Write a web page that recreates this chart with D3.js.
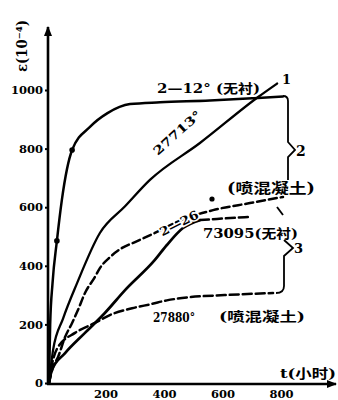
<!DOCTYPE html>
<html><head><meta charset="utf-8">
<script src="https://cdn.jsdelivr.net/npm/d3@7"></script>
<style>body{margin:0;background:#fff}svg{display:block}</style>
</head><body>
<svg id="c" width="338" height="400"></svg>
<script>
// ---- data (t in hours, strain in 1e-4) ----
const xTicks = [200, 400, 600, 800];
const yTicks = [0, 200, 400, 600, 800, 1000];

const tA = [0, 4, 12, 27, 44, 79, 140, 200, 277, 380, 550, 700, 800];          // 2—12° (无衬)
const vA = [0, 200, 340, 485, 625, 795, 874, 921, 952, 958, 964, 972, 978];

const t1 = [0, 14, 48, 96, 174, 260, 345, 516, 715, 780];                      // 27713°
const v1 = [0, 113, 220, 341, 512, 603, 693, 819, 976, 1022];

const t226 = [0, 14, 31, 55, 79, 99, 123, 157, 174, 209, 250, 294, 362, 450, 561, 687, 800]; // 2—26 (喷混凝土)
const v226 = [0, 55, 89, 157, 205, 249, 307, 362, 392, 430, 461, 481, 512, 555, 590, 614, 635];

const t73 = [0, 10, 55, 123, 191, 260, 362, 403, 458, 516, 574, 687];          // 73095 (无衬)
const v73 = [0, 44, 102, 171, 239, 317, 420, 471, 529, 556, 560, 567];

const t278 = [0, 10, 31, 89, 157, 215, 284, 352, 403, 482, 600, 766];          // 27880° (喷混凝土)
const v278 = [0, 62, 123, 171, 205, 235, 255, 270, 282, 293, 300, 307];

const markA = [27, 79];   // point markers on curve 2—12

const svg = d3.select("#c");
svg.append("rect").attr("width", 338).attr("height", 400).attr("fill", "#fff");

const x = d3.scaleLinear().domain([0, 800]).range([49, 283]);
const y = d3.scaleLinear().domain([0, 1000]).range([383, 90]);

const defs = svg.append("defs");
defs.append("marker").attr("id", "arr").attr("viewBox", "0 0 10 10").attr("refX", 9).attr("refY", 5)
  .attr("markerWidth", 4).attr("markerHeight", 4).attr("orient", "auto")
  .append("path").attr("d", "M0,1 L10,5 L0,9 Z").attr("fill", "#000");

// axes
svg.append("line").attr("x1", 47).attr("y1", 384).attr("x2", 336).attr("y2", 384)
  .attr("stroke", "#000").attr("stroke-width", 2.6).attr("marker-end", "url(#arr)");
svg.append("line").attr("x1", 48).attr("y1", 385).attr("x2", 48).attr("y2", 27)
  .attr("stroke", "#000").attr("stroke-width", 2.6).attr("marker-end", "url(#arr)");

const yAx = svg.append("g").attr("transform", "translate(48,0)")
  .call(d3.axisLeft(y).tickValues(yTicks).tickSize(3).tickFormat(d3.format("d")));
yAx.select(".domain").remove();
yAx.selectAll("line").attr("stroke", "#000").attr("stroke-width", 2);
yAx.selectAll("text").attr("font-family", "DejaVu Serif").attr("font-weight", "bold")
  .attr("font-size", 11.5).attr("fill", "#000").attr("x", -5);

const xAx = svg.append("g").attr("transform", "translate(0,384)")
  .call(d3.axisBottom(x).tickValues(xTicks).tickSize(0).tickFormat(d3.format("d")));
xAx.select(".domain").remove();
xAx.selectAll("text").attr("font-family", "DejaVu Serif").attr("font-weight", "bold")
  .attr("font-size", 11.5).attr("fill", "#000").attr("dy", "0.95em").attr("dx", "-2");

// curves
const line = d3.line().x(d => x(d[0])).y(d => y(d[1])).curve(d3.curveMonotoneX);
function draw(ts, vs, dash, w) {
  svg.append("path").datum(ts.map((t, i) => [t, vs[i]])).attr("d", line)
    .attr("fill", "none").attr("stroke", "#000").attr("stroke-width", w || 2.5)
    .attr("stroke-linecap", "round").attr("stroke-dasharray", dash || null);
}
draw(tA, vA);
draw(t1, v1, null, 2.3);
draw(t226, v226, "8,4");
const split = t73.indexOf(516);
draw(t73.slice(0, split + 1), v73.slice(0, split + 1), null, 2.7);
draw(t73.slice(split), v73.slice(split), "9,4");
draw(t278, v278, "9,4");
markA.forEach(t => {
  const i = tA.indexOf(t);
  svg.append("circle").attr("cx", x(t)).attr("cy", y(vA[i])).attr("r", 2.8).attr("fill", "#000");
});

// braces
const br = svg.append("g").attr("fill", "none").attr("stroke", "#000").attr("stroke-width", 1.8);
br.append("path").attr("d", "M283,96 Q288,96 288,101 L288,142 L295,150 L288,157 L288,180");
br.append("path").attr("d", "M277,207 L283,215");
br.append("path").attr("d", "M284,240 L293,248 L284,256 L284,286 Q284,293 276,293");

// labels
const F = "DejaVu Serif, Noto Sans CJK SC";
function lab(txt, x0, y0, size, len, rot, anchor) {
  const t = svg.append("text").attr("x", x0).attr("y", y0).attr("font-family", F)
    .attr("font-weight", "bold").attr("font-size", size).attr("fill", "#000")
    .attr("text-anchor", anchor || "start").text(txt);
  if (len) t.attr("textLength", len).attr("lengthAdjust", "spacingAndGlyphs");
  if (rot) t.attr("transform", `rotate(${rot},${x0},${y0})`);
  return t;
}
lab("2—12° (无衬)", 157, 93, 13, 103);
lab("1", 282, 84, 13);
lab("2", 296, 156, 14);
lab("27713°", 180, 136, 12, 60, -42, "middle");
lab("2—26", 181, 227, 12, 42, -27, "middle").attr("paint-order", "stroke").attr("stroke", "#fff").attr("stroke-width", 3);
svg.append("circle").attr("cx", 212).attr("cy", 199).attr("r", 2.6).attr("fill", "#000");
lab("(喷混凝土)", 227, 193, 14, 88);
lab("73095(无衬)", 203, 238, 13, 95);
lab("3", 294, 253, 13);
lab("27880°", 153, 322, 13, 42);
lab("(喷混凝土)", 219, 321, 13, 86);
lab("t(小时)", 280, 378, 13, 56);
lab("ε(10⁻⁴)", 27, 46, 14, 52, -90, "middle");
</script>
</body></html>
